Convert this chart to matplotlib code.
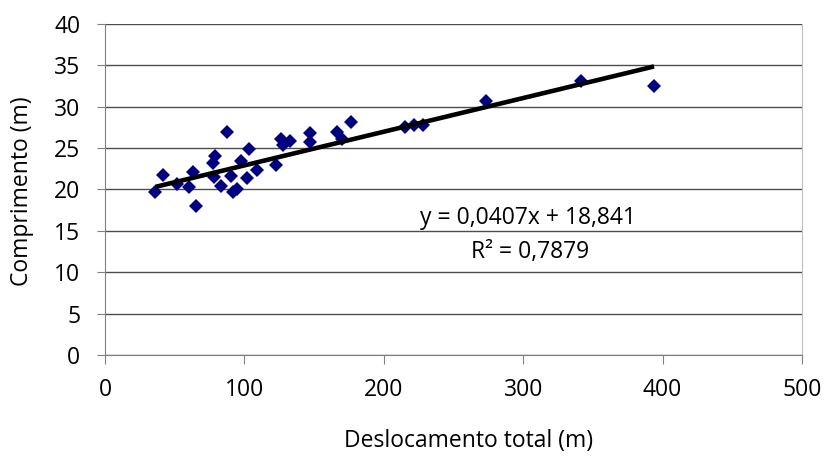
import numpy as np
import matplotlib
matplotlib.use("Agg")
import matplotlib.pyplot as plt

# Deslocamento total (m) vs Comprimento (m)
deslocamento = [36.2, 41.5, 51.5, 60.6, 63.0, 65.4, 77.3, 78.3, 78.8, 83.1,
                87.4, 90.7, 92.1, 95.0, 97.8, 102.2, 103.6, 109.3, 123.0, 126.5,
                128.0, 132.8, 147.1, 147.1, 166.3, 170.1, 176.8, 215.0, 221.7, 228.4,
                273.4, 341.8, 393.9]
comprimento = [19.7, 21.7, 20.7, 20.3, 22.1, 18.0, 23.2, 21.5, 24.0, 20.4,
               26.9, 21.6, 19.7, 20.0, 23.4, 21.4, 24.9, 22.4, 22.9, 26.1,
               25.4, 25.9, 26.8, 25.7, 26.9, 26.1, 28.1, 27.5, 27.8, 27.8,
               30.7, 33.1, 32.5]

# trend line coefficients as printed on the chart
slope = 0.0407
intercept = 18.841

font = "Open Sans"
fs = 16.5

fig = plt.figure(figsize=(8.25, 4.57), dpi=100)
ax = fig.add_axes([0.1272, 0.2232, 0.8449, 0.7243])

x = np.array(deslocamento)
y = np.array(comprimento)

ax.plot(x, y, linestyle="none", marker="D", markersize=7.5, color="#000080",
        markeredgewidth=0, zorder=3)

xl = np.array([x.min(), x.max()])
ax.plot(xl, slope * xl + intercept, color="black", linewidth=3.3,
        solid_capstyle="butt", zorder=4)

ax.set_xlim(0, 500)
ax.set_ylim(0, 40)
ax.set_xticks(range(0, 501, 100))
ax.set_yticks(range(0, 41, 5))
ax.yaxis.grid(True, color="#4d4d4d", linewidth=1)
ax.set_axisbelow(True)

ax.spines["top"].set_visible(False)
ax.spines["right"].set_color("#bfbfbf")
ax.spines["left"].set_color("#808080")
ax.spines["bottom"].set_color("#808080")
ax.tick_params(axis="x", direction="out", length=6.5, color="#808080", pad=10)
ax.tick_params(axis="y", direction="out", length=5.8, color="#808080", pad=12)

for lab in ax.get_xticklabels() + ax.get_yticklabels():
    lab.set_fontfamily(font)
    lab.set_fontsize(fs)

fig.text(469 / 825, 1 - 441 / 457, "Deslocamento total (m)", ha="center",
         va="center", fontfamily=font, fontsize=fs)
fig.text(22 / 825, 1 - 191 / 457, "Comprimento (m)", ha="center",
         va="center", rotation=90, fontfamily=font, fontsize=fs)

ax.text(303.5, 16.56, "y = 0,0407x + 18,841", ha="center", va="center",
        fontfamily=font, fontsize=fs)
ax.text(304.6, 12.48, "R² = 0,7879", ha="center", va="center",
        fontfamily=font, fontsize=fs)

fig.savefig("out.png", dpi=100)
